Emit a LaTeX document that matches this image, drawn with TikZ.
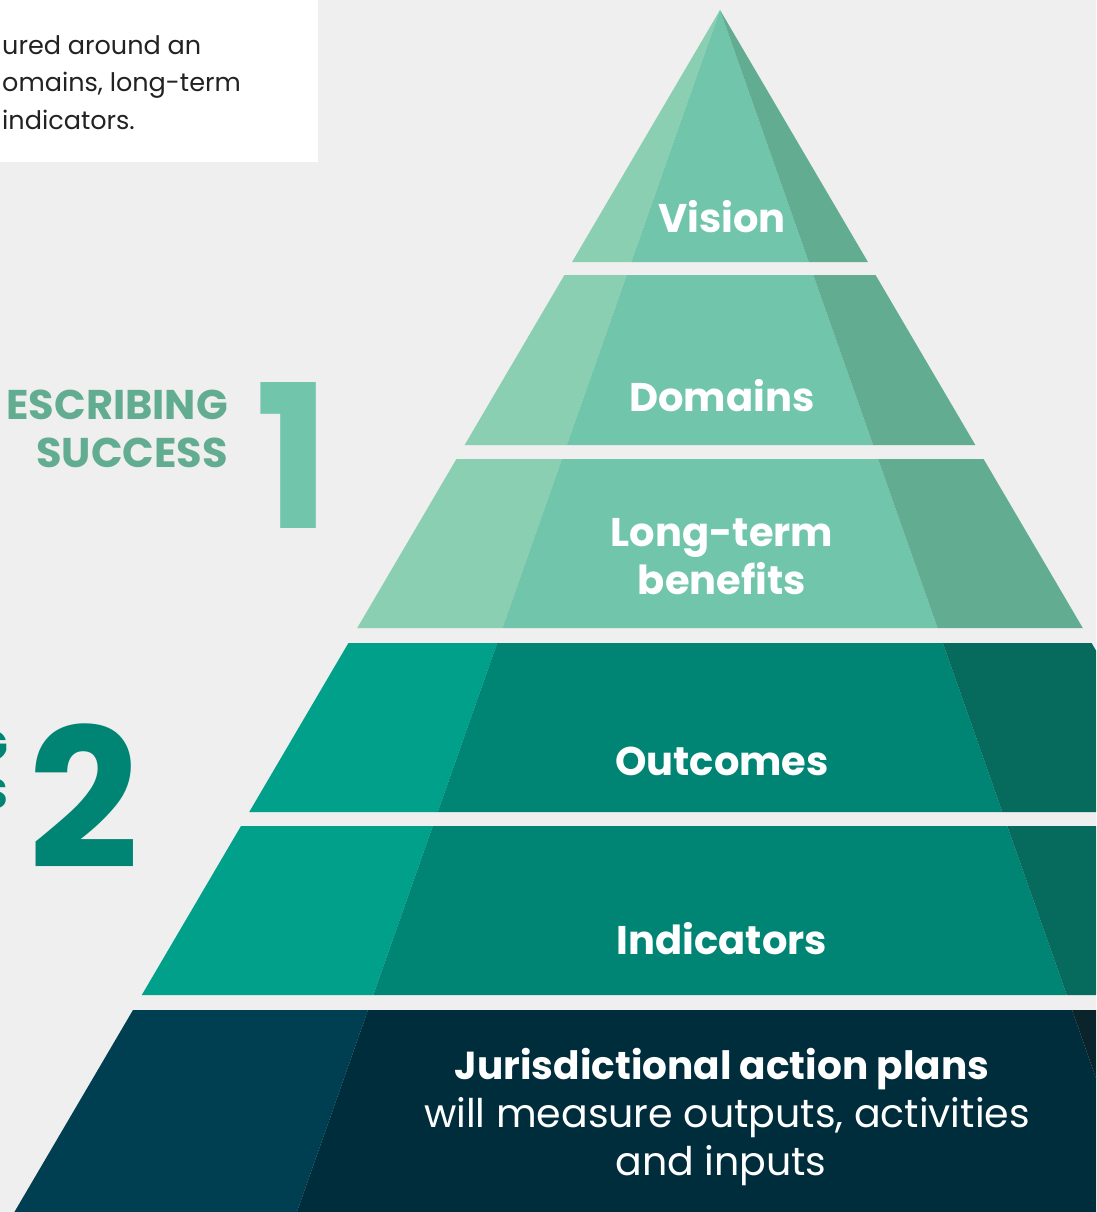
\documentclass[tikz,border=0pt]{standalone}
\usepackage{fontspec}
\setmainfont{Poppins}
\definecolor{bgGray}{HTML}{EEEFEE}
\definecolor{lightA}{HTML}{8BCFB3}
\definecolor{midA}{HTML}{70C5AA}
\definecolor{darkA}{HTML}{62AD92}
\definecolor{lightB}{HTML}{00A08A}
\definecolor{midB}{HTML}{008574}
\definecolor{darkB}{HTML}{066A5C}
\definecolor{lightC}{HTML}{003F52}
\definecolor{midC}{HTML}{002D3C}
\definecolor{darkC}{HTML}{0B232B}
\definecolor{introText}{HTML}{222222}
\tikzset{
  tierlabel/.style={anchor=base, inner sep=0pt, text=white, font=\fontsize{40}{48}\selectfont\bfseries},
  tiernote/.style={anchor=base, inner sep=0pt, text=white, font=\fontsize{39.5}{48}\selectfont},
  sidelabel/.style={anchor=base east, inner sep=0pt, font=\fontsize{41.5}{48}\selectfont\bfseries},
  bignum/.style={anchor=base west, inner sep=0pt, font=\fontsize{200}{200}\selectfont\bfseries},
}
\begin{document}
\begin{tikzpicture}[x=1pt, y=-1pt]
  \useasboundingbox (0,0) rectangle (1096,1212);
  \fill[bgGray] (0,0) rectangle (1096,1212);
  \begin{scope}
  \clip (0,0) rectangle (1096,1212);
  % intro box
  \fill[white] (0,0) rectangle (318,162);
  \node[anchor=north west, inner sep=0pt, align=left, text=introText,
        font=\fontsize{25.5}{37.5}\selectfont] (intro) at (2,35)
        {ured around an\\omains, long-term\\indicators.};
  % pyramid tiers: top, bottom, left, middle, right colour
  \foreach \yt/\yb/\cl/\cm/\cr in {10/262/lightA/midA/darkA,
      275/445/lightA/midA/darkA, 459/628/lightA/midA/darkA,
      643/812/lightB/midB/darkB, 826/995/lightB/midB/darkB,
      1010/1230/lightC/midC/darkC} {
    \pgfmathsetmacro\olt{720-0.587*(\yt-10)}
    \pgfmathsetmacro\olb{720-0.587*(\yb-10)}
    \pgfmathsetmacro\ilt{720-0.352*(\yt-10)}
    \pgfmathsetmacro\ilb{720-0.352*(\yb-10)}
    \pgfmathsetmacro\irt{720+0.352*(\yt-10)}
    \pgfmathsetmacro\irb{720+0.352*(\yb-10)}
    \pgfmathsetmacro\ort{720+0.587*(\yt-10)}
    \pgfmathsetmacro\orb{720+0.587*(\yb-10)}
    \fill[\cl] (\olt,\yt) -- (\ilt,\yt) -- (\ilb,\yb) -- (\olb,\yb) -- cycle;
    \fill[\cm] (\ilt,\yt) -- (\irt,\yt) -- (\irb,\yb) -- (\ilb,\yb) -- cycle;
    \fill[\cr] (\irt,\yt) -- (\ort,\yt) -- (\orb,\yb) -- (\irb,\yb) -- cycle;
  }
  % tier labels
  \node[tierlabel] (vision) at (722,232) {Vision};
  \node[tierlabel] (domains) at (722,411) {Domains};
  \node[tierlabel] (longterm) at (722,546) {Long-term};
  \node[tierlabel] (benefits) at (722,594) {benefits};
  \node[tierlabel] (outcomes) at (722,775) {Outcomes};
  \node[tierlabel] (indicators) at (722,954) {Indicators};
  \node[tierlabel, font=\fontsize{39}{48}\selectfont\bfseries] (plans) at (722,1079) {Jurisdictional action plans};
  \node[tiernote] (measure) at (727,1127) {will measure outputs, activities};
  \node[tiernote] (inputs) at (721,1175) {and inputs};
  % side labels
  \node[sidelabel, text=darkA] (describing) at (228,419) {ESCRIBING};
  \node[sidelabel, text=darkA] (success) at (228,467) {SUCCESS};
  \node[bignum, text=midA] (one) at (255,528) {1};
  \node[sidelabel, text=midB] (partG) at (8,760) {G};
  \node[sidelabel, text=midB] (partS) at (8,808) {S};
  \node[bignum, text=midB, font=\fontsize{194}{194}\selectfont\bfseries] (two) at (28,868) {2};
  \end{scope}
\end{tikzpicture}
\end{document}
